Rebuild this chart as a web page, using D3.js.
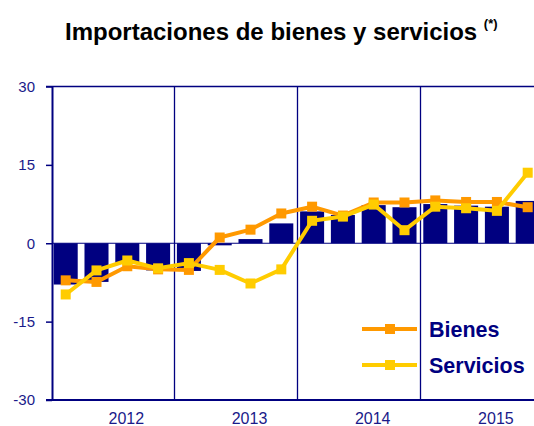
<!DOCTYPE html>
<html>
<head>
<meta charset="utf-8">
<script src="https://cdn.jsdelivr.net/npm/d3@7"></script>
<style>
  body { margin: 0; background: #fff; }
  svg { display: block; font-family: Arial, "Liberation Sans", sans-serif; }
</style>
</head>
<body>
<div id="chart_div"></div>
<script>
// quarters 2012 Q1 .. 2015 Q4
var years = ['2012', '2013', '2014', '2015'];
var quarters = ['2012-1', '2012-2', '2012-3', '2012-4', '2013-1', '2013-2', '2013-3', '2013-4',
                '2014-1', '2014-2', '2014-3', '2014-4', '2015-1', '2015-2', '2015-3', '2015-4'];
var total_values = [-7.9, -7.4, -3.9, -5.2, -5.3, -0.4, 0.8, 3.8, 6.1, 5.4, 7.3, 6.9, 7.5, 7.2, 7.0, 8.1];
var bienes_values = [-7.1, -7.4, -4.4, -5.0, -5.1, 1.1, 2.6, 5.7, 7.0, 5.3, 7.8, 7.8, 8.2, 7.9, 7.9, 6.9];
var servicios_values = [-9.8, -5.2, -3.3, -4.8, -3.8, -5.1, -7.7, -5.0, 4.3, 5.1, 7.4, 2.5, 7.0, 6.7, 6.2, 13.5];
var y_ticks = [30, 15, 0, -15, -30];

function draw_chart() {
    var width = 534, height = 426;
    var navy = '#000080';
    var label_color = '#1a1a8a';

    var svg = d3.select('#chart_div')
        .append('svg')
        .attr('width', width)
        .attr('height', height);

    var x = d3.scaleBand()
        .domain(quarters)
        .range([50.3, 543.1])
        .paddingInner(0.22)
        .paddingOuter(0.11);

    var y = d3.scaleLinear()
        .domain([-30, 30])
        .range([400, 86.5]);

    var step = x.step();
    var gap = (step - x.bandwidth()) / 2;

    // title
    var title = svg.append('text')
        .attr('x', 65)
        .attr('y', 40)
        .style('font-weight', 700)
        .style('font-size', '24px')
        .attr('fill', '#000');
    title.append('tspan').text('Importaciones de bienes y servicios ');
    title.append('tspan')
        .attr('dy', -12)
        .style('font-size', '13px')
        .text('(*)');

    // bars
    svg.append('g').selectAll('rect')
        .data(total_values)
        .enter()
        .append('rect')
        .attr('x', (d, i) => x(quarters[i]))
        .attr('width', x.bandwidth())
        .attr('y', d => y(Math.max(0, d)))
        .attr('height', d => Math.abs(y(d) - y(0)))
        .attr('fill', navy);

    // zero line
    svg.append('line')
        .attr('x1', 52).attr('x2', width)
        .attr('y1', y(0)).attr('y2', y(0))
        .attr('stroke', navy).attr('stroke-width', 1);

    // year separators
    svg.append('g').selectAll('line')
        .data(years.slice(1))
        .enter()
        .append('line')
        .attr('x1', d => Math.round(x(d + '-1') - gap) + 0.5)
        .attr('x2', d => Math.round(x(d + '-1') - gap) + 0.5)
        .attr('y1', y(30)).attr('y2', y(-30))
        .attr('stroke', navy).attr('stroke-width', 1.3);

    // frame: top and bottom
    svg.append('line')
        .attr('x1', 46).attr('x2', width)
        .attr('y1', y(30)).attr('y2', y(30))
        .attr('stroke', navy).attr('stroke-width', 1.5);
    svg.append('line')
        .attr('x1', 46).attr('x2', width)
        .attr('y1', y(-30)).attr('y2', y(-30))
        .attr('stroke', navy).attr('stroke-width', 2);

    // y axis
    var y_axis = svg.append('g')
        .attr('transform', 'translate(52,0)')
        .call(d3.axisLeft(y).tickValues(y_ticks).tickFormat(d => String(d))
            .tickSize(6).tickPadding(11).tickSizeOuter(0));
    y_axis.select('.domain').attr('stroke', navy).attr('stroke-width', 2);
    y_axis.selectAll('.tick line').attr('stroke', navy).attr('stroke-width', 1.5);
    y_axis.selectAll('.tick text')
        .attr('fill', label_color)
        .style('font-size', '15px')
        .style('font-family', 'Arial, "Liberation Sans", sans-serif');

    // year labels, centred under the third quarter
    svg.append('g').selectAll('text')
        .data(years)
        .enter()
        .append('text')
        .attr('x', d => x(d + '-3') + x.bandwidth() / 2 - 1)
        .attr('y', 424)
        .attr('text-anchor', 'middle')
        .attr('fill', label_color)
        .style('font-size', '16px')
        .text(d => d);

    var line = d3.line()
        .x((d, i) => x(quarters[i]) + x.bandwidth() / 2)
        .y(d => y(d));

    var series = [
        { name: 'Bienes', values: bienes_values, color: '#FF9900' },
        { name: 'Servicios', values: servicios_values, color: '#FFCC00' }
    ];

    series.forEach(function(s) {
        svg.append('path')
            .datum(s.values)
            .attr('d', line)
            .attr('fill', 'none')
            .attr('stroke', s.color)
            .attr('stroke-width', 4)
            .attr('stroke-linejoin', 'round');
        svg.append('g').selectAll('rect')
            .data(s.values)
            .enter()
            .append('rect')
            .attr('x', (d, i) => x(quarters[i]) + x.bandwidth() / 2 - 5)
            .attr('y', d => y(d) - 5)
            .attr('width', 10)
            .attr('height', 10)
            .attr('fill', s.color);
    });

    // legend
    var legend = svg.append('g')
        .selectAll('g')
        .data(series)
        .enter()
        .append('g')
        .attr('transform', (d, i) => `translate(362, ${329 + i * 36})`);
    legend.append('line')
        .attr('x1', 0).attr('x2', 55)
        .attr('y1', 0).attr('y2', 0)
        .attr('stroke', d => d.color)
        .attr('stroke-width', 4);
    legend.append('rect')
        .attr('x', 23).attr('y', -5)
        .attr('width', 10).attr('height', 10)
        .attr('fill', d => d.color);
    legend.append('text')
        .attr('x', 67)
        .attr('y', 8)
        .attr('fill', navy)
        .style('font-weight', 700)
        .style('font-size', '21.5px')
        .text(d => d.name);
}

draw_chart();
</script>
</body>
</html>
